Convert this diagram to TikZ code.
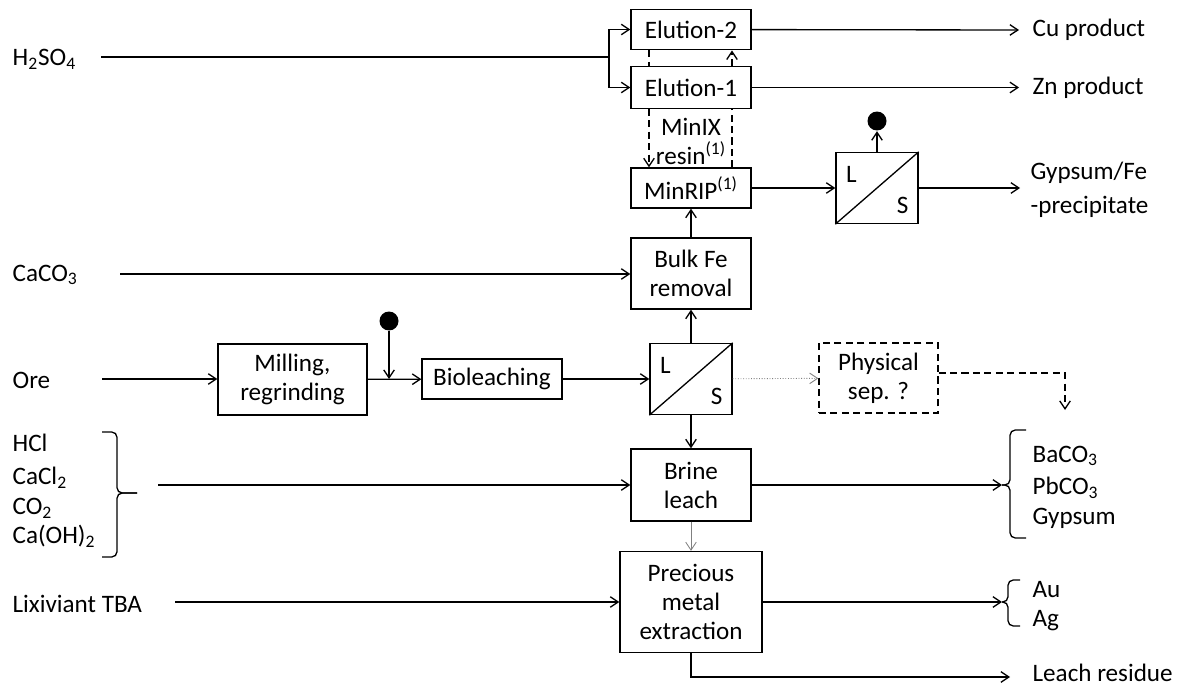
\documentclass[tikz,border=0pt]{standalone}
\usepackage{fontspec}
\setmainfont{Carlito}
\usetikzlibrary{
  arrows.meta,              % 开口箭头
  positioning               % 节点相对定位
}

\begin{document}
\begin{tikzpicture}[x=0.02cm, y=-0.02cm, >={Straight Barb[length=4.5pt,width=6pt]}, line width=0.75pt,
  font=\fontsize{14.3}{16.5}\selectfont,
  unit/.style={draw, fill=white, align=center, inner sep=0pt},          % 工艺单元方框
  lsbox/.style={draw, fill=white, minimum width=1.64cm, minimum height=1.42cm, inner sep=0pt}, % 固液分离方框
  blob/.style={circle, fill=black, inner sep=0pt, minimum size=0.38cm}, % 黑色圆点
  feed/.style={anchor=west, inner sep=0pt},                            % 左右两侧的物料文字
  dashline/.style={dash pattern=on 4pt off 2.5pt},                     % 虚线
  hook/.style={rounded corners=3pt}]                                   % 大括号的折线
  % 整体思路：中间一列是主流程，左侧进料，右侧出料；坐标按像素给出（x 向右，y 向下）

  \useasboundingbox (0,0) rectangle (1180,686); % 固定画布大小

  % ======= 中间一列工艺单元 =======
  \node[unit, minimum width=2.4cm, minimum height=0.81cm] (elu2) at (691,29.5) {Elution-2}; % 第二段洗脱
  \node[unit, minimum width=2.4cm, minimum height=0.83cm] (elu1) at (691,87.5) {Elution-1}; % 第一段洗脱
  \node[unit, minimum width=2.4cm, minimum height=0.8cm] (minrip) at (691,188) {MinRIP\textsuperscript{(1)}}; % 矿浆树脂吸附
  \node[unit, minimum width=2.4cm, minimum height=1.42cm] (bulkfe) at (691,273.5) {Bulk Fe\\removal}; % 除铁
  \node[lsbox] (lsmid) at (691,379) {}; % 浸出后固液分离
  \node[unit, minimum width=2.4cm, minimum height=1.44cm] (brine) at (691,485) {Brine\\leach}; % 盐水浸出
  \node[unit, minimum width=2.84cm, minimum height=2.02cm] (precious) at (691,602) {Precious\\metal\\extraction}; % 贵金属提取

  % ======= 矿石这一行 =======
  \node[unit, minimum width=2.98cm, minimum height=1.42cm] (milling) at (292.5,379.5) {Milling,\\regrinding}; % 磨矿
  \node[unit, minimum width=2.8cm, minimum height=0.8cm] (bioleach) at (492,379) {Bioleaching}; % 生物浸出
  \node[unit, dashline, minimum width=2.38cm, minimum height=1.4cm] (physsep) at (878.5,378) {Physical\\sep. ?}; % 可选的物理分选
  \node[blob] (blobmid) at (389,321) {}; % 磨矿后的加入点

  % ======= 右上固液分离 =======
  \node[lsbox] (lstop) at (877,188) {}; % 沉淀后固液分离
  \node[blob] (blobtop) at (877,121) {}; % 液相去向

  % 固液分离方框里的斜线和 L、S
  \foreach \ls in {lsmid, lstop} {
    \draw (\ls.south west) -- (\ls.north east); % 对角线
    \node (\ls L) at ([xshift=0.32cm, yshift=-0.46cm]\ls.north west) {L}; % 液相
    \node (\ls S) at ([xshift=-0.32cm, yshift=0.38cm]\ls.south east) {S}; % 固相
  }

  % ======= 左侧进料文字 =======
  \node[feed] (acid) at (12,59) {H\textsubscript{2}SO\textsubscript{4}};
  \node[feed] (lime) at (12,275) {CaCO\textsubscript{3}};
  \node[feed] (ore) at (12,380) {Ore};
  \node[feed] (hcl) at (12,443) {HCl};
  \node[feed] (cacl) at (12,478) {CaCl\textsubscript{2}};
  \node[feed] (cotwo) at (12,508) {CO\textsubscript{2}};
  \node[feed] (caoh) at (12,536) {Ca(OH)\textsubscript{2}};
  \node[feed] (lix) at (12,604) {Lixiviant TBA};

  % ======= 右侧产品文字 =======
  \node[feed] (cu) at (1032,30) {Cu product};
  \node[feed] (zn) at (1032,88) {Zn product};
  \node[feed] (gyp) at (1030,173) {Gypsum/Fe};
  \node[feed] (prec) at (1030,207) {-precipitate};
  \node[feed] (baco) at (1032,456) {BaCO\textsubscript{3}};
  \node[feed] (pbco) at (1032,488) {PbCO\textsubscript{3}};
  \node[feed] (gypsum) at (1032,518) {Gypsum};
  \node[feed] (au) at (1032,590) {Au};
  \node[feed] (ag) at (1032,621) {Ag};
  \node[feed] (residue) at (1032,673) {Leach residue};
  \node[align=center, inner sep=0pt] (minix) at (691,141) {MinIX\\resin\textsuperscript{(1)}}; % 树脂循环说明

  % ======= 连线的端点 =======
  \coordinate (split) at (609,57);     % 硫酸分流点
  \coordinate (acidin) at (101,57);    % 硫酸线起点
  \coordinate (limein) at (120,274);   % 石灰石线起点
  \coordinate (orein) at (102,379);    % 矿石线起点
  \coordinate (brinein) at (158,485);  % 盐水试剂线起点
  \coordinate (lixin) at (175,602);    % 浸出剂线起点
  \coordinate (cuout) at (1019,30);    % 铜产品箭头终点
  \coordinate (znout) at (1019,87.5);  % 锌产品箭头终点
  \coordinate (gypout) at (1020,188);  % 石膏箭头终点
  \coordinate (sepdown) at (1065,410); % 物理分选去向
  \coordinate (brinetip) at (1002,485);% 盐水产品括号尖
  \coordinate (autip) at (1002,602);   % 金银括号尖
  \coordinate (resout) at (1010,677);  % 浸出渣箭头终点
  \coordinate (colL) at (649,0);       % 左侧虚线所在列
  \coordinate (colR) at (732,0);       % 右侧虚线所在列
  \coordinate (reagtip) at (137,493);  % 左侧试剂括号尖

  % ======= 大括号（上下两半在尖端汇合） =======
  \draw[hook] (102,432) -| (117,493) -- (reagtip);    % 左侧四种试剂，上半
  \draw[hook] (102,557) -| (117,493) -- (reagtip);    % 下半
  \draw[hook] (1026,430) -| (1010,485) -- (brinetip); % 盐水浸出产品，上半
  \draw[hook] (1026,538) -| (1010,485) -- (brinetip); % 下半
  \draw[hook] (1020,580) -| (1008,602) -- (autip);    % 金银，上半
  \draw[hook] (1020,626) -| (1008,602) -- (autip);    % 下半

  % ======= 洗脱部分 =======
  \draw (acidin) -- (split);
  \draw[->] (split) |- (elu2);
  \draw[->] (split) |- (elu1);
  \draw[->] (elu2) -- (cuout);
  \draw[->] (elu1) -- (znout);
  \draw[dashline] (elu2.south -| colL) -- (elu1.north -| colL);      % 树脂下行
  \draw[dashline,->] (elu1.south -| colL) -- (minrip.north -| colL); % 回到 MinRIP
  \draw[dashline] (minrip.north -| colR) -- (elu1.south -| colR);    % 载树脂上行
  \draw[dashline,->] (elu1.north -| colR) -- (elu2.south -| colR);   % 进入第二段洗脱

  % ======= 主流程 =======
  \draw[->] (minrip) -- (lstop);
  \draw[->] (lstop) -- (blobtop);
  \draw[->] (lstop) -- (gypout);
  \draw[->] (bulkfe) -- (minrip);
  \draw[->] (limein) -- (limein -| bulkfe.west);
  \draw[->] (orein) -- (orein -| milling.west);
  \draw[->] (milling) -- (bioleach);
  \draw[->] (blobmid) -- (blobmid |- bioleach.west);
  \draw[->] (bioleach) -- (lsmid);
  \draw[->] (lsmid) -- (bulkfe);
  \draw[->] (lsmid) -- (brine);
  \draw[->, densely dotted, gray, line width=0.5pt] (lsmid) -- (physsep);
  \draw[dashline,->] ([yshift=0.1cm]physsep.east) -| (sepdown);
  \draw[->] (brinein) -- (brinein -| brine.west);
  \draw[->] (brine) -- (brinetip);
  \draw[->, gray, line width=0.5pt] (brine) -- (precious);
  \draw[->] (lixin) -- (lixin -| precious.west);
  \draw[->] (precious) -- (autip);
  \draw[->] (precious.south) |- (resout);

\end{tikzpicture}
\end{document}
